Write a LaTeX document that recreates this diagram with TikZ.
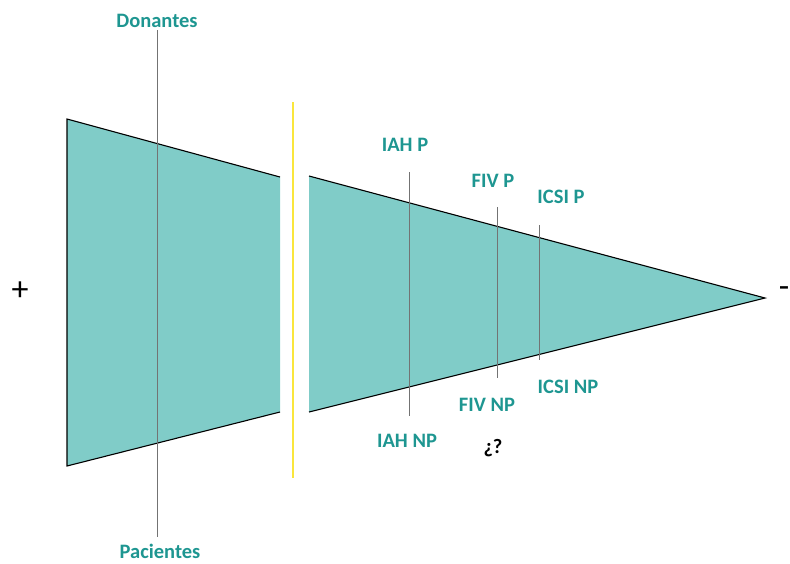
\documentclass[tikz,border=0pt]{standalone}
\usepackage{fontspec}
\setmainfont{Carlito}
\definecolor{tealfill}{RGB}{128,204,200}
\definecolor{tealtext}{RGB}{30,150,145}
\definecolor{ylw}{RGB}{250,230,60}
\begin{document}
\begin{tikzpicture}[x=1pt,y=-1pt,
  lbl/.style={font=\fontsize{20.5}{24}\selectfont\bfseries, text=tealtext, inner sep=0pt},
  sign/.style={font=\fontsize{34}{40}\selectfont, inner sep=0pt},
  guide/.style={draw=black!55, line width=0.6pt},
  edge/.style={draw=black, line width=1.1pt}]
\useasboundingbox (0,0) rectangle (790,563);
% left trapezoid
\coordinate (ltl) at (67,119);
\coordinate (lbl) at (67,466);
\coordinate (ltr) at (280,177);
\coordinate (lbr) at (280,412);
\fill[tealfill] (ltl) -- (ltr) -- (lbr) -- (lbl) -- cycle;
\draw[edge] (ltr) -- (ltl) -- (lbl) -- (lbr);
% right triangle
\coordinate (rtl) at (309,176);
\coordinate (rbl) at (309,412);
\coordinate (apex) at (765,298);
\fill[tealfill] (rtl) -- (apex) -- (rbl) -- cycle;
\draw[edge] (rtl) -- (apex) -- (rbl);
% yellow separator
\coordinate (y1) at (293,102);
\coordinate (y2) at (293,478);
\draw[ylw, line width=2pt] (y1) -- (y2);
% labels
\node[lbl] (don) at (157,21) {Donantes};
\node[lbl] (pac) at (160,551) {Pacientes};
\node[lbl] (iahp) at (405,145) {IAH P};
\node[lbl] (iahnp) at (407,441) {IAH NP};
\node[lbl] (fivp) at (493,181) {FIV P};
\node[lbl] (fivnp) at (487,405) {FIV NP};
\node[lbl] (icsip) at (561,197) {ICSI P};
\node[lbl] (icsinp) at (568,387) {ICSI NP};
\node[font=\fontsize{20.5}{24}\selectfont\bfseries, inner sep=0pt] (q) at (493,448) {¿?};
\node[sign] (plus) at (20,291) {+};
\node[sign, anchor=east] (minus) at (789.5,292) {-};
% guide lines
\coordinate (d1) at (157,30);
\coordinate (d2) at (157,537);
\draw[guide] (d1) -- (d2);
\coordinate (i1) at (409,172);
\coordinate (i2) at (409,416);
\draw[guide] (i1) -- (i2);
\coordinate (f1) at (497,207);
\coordinate (f2) at (497,378);
\draw[guide] (f1) -- (f2);
\coordinate (c1) at (539,225);
\coordinate (c2) at (539,360);
\draw[guide] (c1) -- (c2);
\end{tikzpicture}
\end{document}
